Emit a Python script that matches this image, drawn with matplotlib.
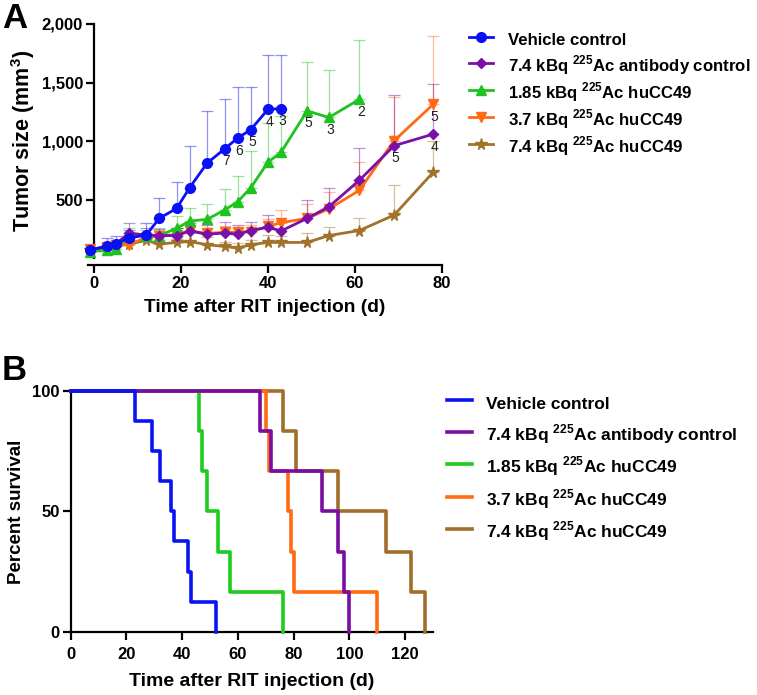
import matplotlib
matplotlib.use("Agg")
import matplotlib.pyplot as plt
import numpy as np

plt.rcParams['font.family'] = ['Liberation Sans', 'DejaVu Sans']
plt.rcParams['mathtext.fontset'] = 'custom'
plt.rcParams['mathtext.rm'] = 'Liberation Sans'
plt.rcParams['mathtext.bf'] = 'Liberation Sans:bold'

# ---------------- data ----------------
labels = ["Vehicle control",
          r"7.4 kBq $^{\mathbf{225}}$Ac antibody control",
          r"1.85 kBq $^{\mathbf{225}}$Ac huCC49",
          r"3.7 kBq $^{\mathbf{225}}$Ac huCC49",
          r"7.4 kBq $^{\mathbf{225}}$Ac huCC49"]
colors_a = ["#0A10F5", "#7A10A8", "#1FC21F", "#FF6A14", "#A0722A"]
colors_b = ["#0A14F0", "#7A0DA0", "#1ECB1E", "#FF6A12", "#A06E28"]
markers = ["o", "D", "^", "v", "*"]

days = [-1, 3, 5, 8, 12, 15, 19, 22, 26, 30, 33, 36, 40, 43, 49, 54, 61, 69, 78]

veh_mean = [70, 99, 121, 170, 197, 339, 424, 602, 811, 932, 1025, 1096, 1271, 1277]
veh_upper = [80, 170, 190, 240, 296, 514, 650, 955, 1257, 1356, 1463, 1463, 1737, 1737]

abc_mean = [70, 100, 120, 212, 197, 192, 192, 231, 203, 214, 203, 235, 263, 231, 339, 438, 664, 960, 1059]
abc_upper = [80, 130, 150, 297, 260, 250, 260, 300, 280, 305, 280, 305, 367, 320, 494, 599, 938, 1392, 1483]

lo_mean = [55, 65, 79, 190, 192, 192, 254, 316, 330, 410, 480, 599, 819, 904, 1257, 1201, 1356]
lo_upper = [65, 80, 100, 260, 240, 255, 355, 424, 458, 587, 700, 912, 1150, 1210, 1672, 1604, 1864]

mid_mean = [75, 90, 110, 113, 175, 190, 200, 231, 210, 220, 220, 225, 270, 302, 339, 420, 578, 1003, 1314]
mid_upper = [85, 110, 140, 150, 210, 240, 260, 280, 260, 270, 260, 280, 330, 410, 458, 560, 819, 1379, 1898]

hi_mean = [70, 80, 105, 119, 150, 119, 133, 141, 113, 99, 85, 113, 133, 133, 133, 192, 235, 367, 734]
hi_upper = [80, 100, 125, 150, 180, 150, 165, 229, 180, 140, 130, 150, 200, 190, 212, 268, 339, 621, 1000]

means = [veh_mean, abc_mean, lo_mean, mid_mean, hi_mean]
uppers = [veh_upper, abc_upper, lo_upper, mid_upper, hi_upper]

# n labels: (series index, day, text)
n_labels = [(0, 30, "7"), (0, 33, "6"), (0, 36, "5"), (0, 40, "4"), (0, 43, "3"),
            (2, 49, "5"), (2, 54, "3"), (2, 61, "2"),
            (1, 69, "5"), (3, 78, "5"), (1, 78, "4")]

# survival (Kaplan-Meier steps)
surv_t = [[0, 23, 29, 32, 36, 37, 42, 43, 52],
          [0, 68, 72, 90, 96, 98, 100],
          [0, 46, 47, 49, 53, 57, 76],
          [0, 70, 71, 78, 79, 80, 110],
          [0, 76, 81, 96, 113, 122, 127]]
surv_p = [[100, 87.5, 75, 62.5, 50, 37.5, 25, 12.5, 0],
          [100, 83.3, 66.7, 50, 33.3, 16.7, 0],
          [100, 83.3, 66.7, 50, 33.3, 16.7, 0],
          [100, 83.3, 66.7, 50, 33.3, 16.7, 0],
          [100, 83.3, 66.7, 50, 33.3, 16.7, 0]]

W, H = 757, 695
fig = plt.figure(figsize=(W / 100, H / 100), dpi=100)

TICK_FS = 12

# ---------------- panel A ----------------
ax = fig.add_axes([87.5 / W, 1 - 258 / H, (442 - 87.5) / W, (258 - 24) / H])
handles = []
for i in range(5):
    n = len(means[i])
    x = days[:n]
    m = np.array(means[i], float)
    u = np.array(uppers[i], float)
    z = 10 - i
    ax.errorbar(x, m, yerr=[np.zeros(n), u - m], fmt='none', ecolor=colors_a[i],
                alpha=0.45, elinewidth=0.9, capsize=4, capthick=0.9, zorder=z - 5)
    ms = 8.5 if markers[i] == '*' else (5.5 if markers[i] == 'D' else 7)
    h, = ax.plot(x, m, color=colors_a[i], marker=markers[i], markersize=ms,
                 linewidth=2, zorder=z, label=labels[i], clip_on=False)
    handles.append(h)
for si, d, t in n_labels:
    idx = days.index(d)
    ax.annotate(t, (d, means[si][idx]), xytext=(1, -9), textcoords='offset points',
                ha='center', va='center', fontsize=10, color='#222222', zorder=20)

ax.set_xlim(-1.5, 80)
ax.set_ylim(0, 2000)
ax.set_xticks([0, 20, 40, 60, 80])
ax.set_yticks([500, 1000, 1500, 2000])
ax.set_yticklabels(["500", "1,000", "1,500", "2,000"])
ax.spines['top'].set_visible(False)
ax.spines['right'].set_visible(False)
ax.spines['left'].set_position(('data', 0))
ax.spines['bottom'].set_position(('outward', 5))
for s in ['left', 'bottom']:
    ax.spines[s].set_linewidth(1.6)
ax.tick_params(width=1.6, length=6, labelsize=TICK_FS, pad=2)
for lab in ax.get_xticklabels() + ax.get_yticklabels():
    lab.set_fontweight('bold')
ax.set_xlabel("Time after RIT injection (d)", fontsize=13.8, fontweight='bold', labelpad=6)
ax.set_ylabel(r"Tumor size (mm$^{\mathbf{3}}$)", fontsize=15.5, fontweight='bold', labelpad=3)

fig.legend(handles=handles, labels=labels, loc='upper left',
           bbox_to_anchor=(469 / W, 1 - 29 / H), frameon=False, borderpad=0,
           borderaxespad=0, handlelength=1.45, handletextpad=0.86, labelspacing=0.2,
           handleheight=1.55, prop={'size': 12.1, 'weight': 'bold'})

# ---------------- panel B ----------------
bx = fig.add_axes([70.7 / W, 1 - 631.7 / H, (433 - 70.7) / W, (631.7 - 391) / H])
bh = []
for i in range(5):
    h, = bx.step(surv_t[i], surv_p[i], where='post', color=colors_b[i], linewidth=2.6,
                 zorder=10 - i, clip_on=False, label=labels[i])
    bh.append(h)
bx.set_xlim(0, 130)
bx.set_ylim(0, 100)
bx.set_xticks([0, 20, 40, 60, 80, 100, 120])
bx.set_yticks([0, 50, 100])
bx.spines['top'].set_visible(False)
bx.spines['right'].set_visible(False)
for s in ['left', 'bottom']:
    bx.spines[s].set_linewidth(1.6)
bx.tick_params(width=1.6, length=6, labelsize=TICK_FS, pad=2)
bx.tick_params(axis='x', pad=5)
for lab in bx.get_xticklabels() + bx.get_yticklabels():
    lab.set_fontweight('bold')
bx.set_xlabel("Time after RIT injection (d)", fontsize=14, fontweight='bold', labelpad=8)
bx.set_ylabel("Percent survival", fontsize=13.5, fontweight='bold', labelpad=5)

fig.legend(handles=bh, labels=labels, loc='upper left',
           bbox_to_anchor=(447 / W, 1 - 392 / H), frameon=False, borderpad=0,
           borderaxespad=0, handlelength=1.43, handletextpad=0.8, labelspacing=0.5,
           handleheight=1.55, prop={'size': 12.5, 'weight': 'bold'})

fig.text(2 / W, 1 - 18 / H, "A", fontsize=25, fontweight='bold', va='center', ha='left')
fig.text(2 / W, 1 - 371 / H, "B", fontsize=25, fontweight='bold', va='center', ha='left')

fig.savefig("out.png", dpi=100)
